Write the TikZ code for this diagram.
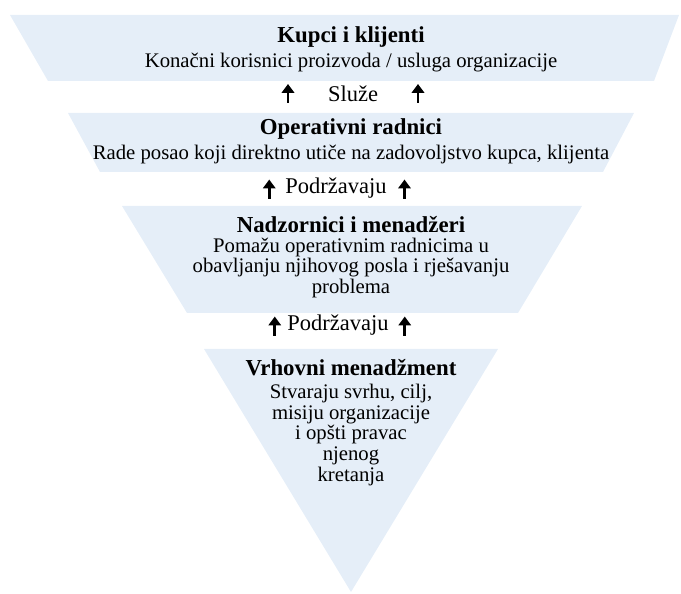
\documentclass[tikz,border=0pt]{standalone}
\usepackage{fontspec}
\setmainfont{Liberation Serif}
\usetikzlibrary{arrows.meta}
\definecolor{bandblue}{RGB}{229,238,248}

\begin{document}
\begin{tikzpicture}[x=0.02cm, y=-0.02cm,
		title/.style={font=\fontsize{13}{15}\selectfont\bfseries},
		body/.style={font=\fontsize{11.8}{11.9}\selectfont, align=center, inner sep=0pt},
		link/.style={font=\fontsize{12.8}{14}\selectfont, inner sep=0pt},
		uparrow/.style={-{Triangle[length=5pt, width=7pt]}, line width=1.7pt}]
			\useasboundingbox (0,0) rectangle (681,594);
			% bands of the inverted triangle
			\fill[bandblue] (10,15) -- (679,15) -- (654,81) -- (48,81) -- cycle;
			\fill[bandblue] (68,113) -- (634,113) -- (603,172) -- (100,172) -- cycle;
			\fill[bandblue] (122,206) -- (582,206) -- (518,313) -- (187,313) -- cycle;
			\fill[bandblue] (204,349) -- (498,349) -- (351,592) -- cycle;
			% band 1
			\node[title] (kupci) at (351,37) {Kupci i klijenti};
			\node[body] (kupcitxt) at (351,63) {Konačni korisnici proizvoda / usluga organizacije};
			% Sluze
			\node[link] (sluze) at (353,94) {Služe};
			\coordinate (s1) at (288,103);
			\coordinate (s2) at (418,103);
			\draw[uparrow] (s1) -- ++(0,-19);
			\draw[uparrow] (s2) -- ++(0,-19);
			% band 2
			\node[title] (oper) at (351,129) {Operativni radnici};
			\node[body] (opertxt) at (351,154) {Rade posao koji direktno utiče na zadovoljstvo kupca, klijenta};
			% Podrzavaju 1
			\node[link] (podr1) at (336,188) {Podržavaju};
			\coordinate (p1) at ([xshift=-9]podr1.south west);
			\coordinate (p2) at ([xshift=10]podr1.south east);
			\draw[uparrow] (p1) -- ++(0,-19);
			\draw[uparrow] (p2) -- ++(0,-19);
			% band 3
			\node[title] (nadz) at (351,225) {Nadzornici i menadžeri};
			\node[body] (nadztxt) at (351,268) {Pomažu operativnim radnicima u\\obavljanju njihovog posla i rješavanju\\problema};
			% Podrzavaju 2
			\node[link] (podr2) at (338,325) {Podržavaju};
			\coordinate (q1) at ([xshift=-7]podr2.south west);
			\coordinate (q2) at ([xshift=9]podr2.south east);
			\draw[uparrow] (q1) -- ++(0,-19);
			\draw[uparrow] (q2) -- ++(0,-19);
			% band 4
			\node[title] (vrh) at (351,368) {Vrhovni menadžment};
			\node[body] (vrhtxt) at (351,435) {Stvaraju svrhu, cilj,\\misiju organizacije\\i opšti pravac\\njenog\\kretanja};
		\end{tikzpicture}
\end{document}
